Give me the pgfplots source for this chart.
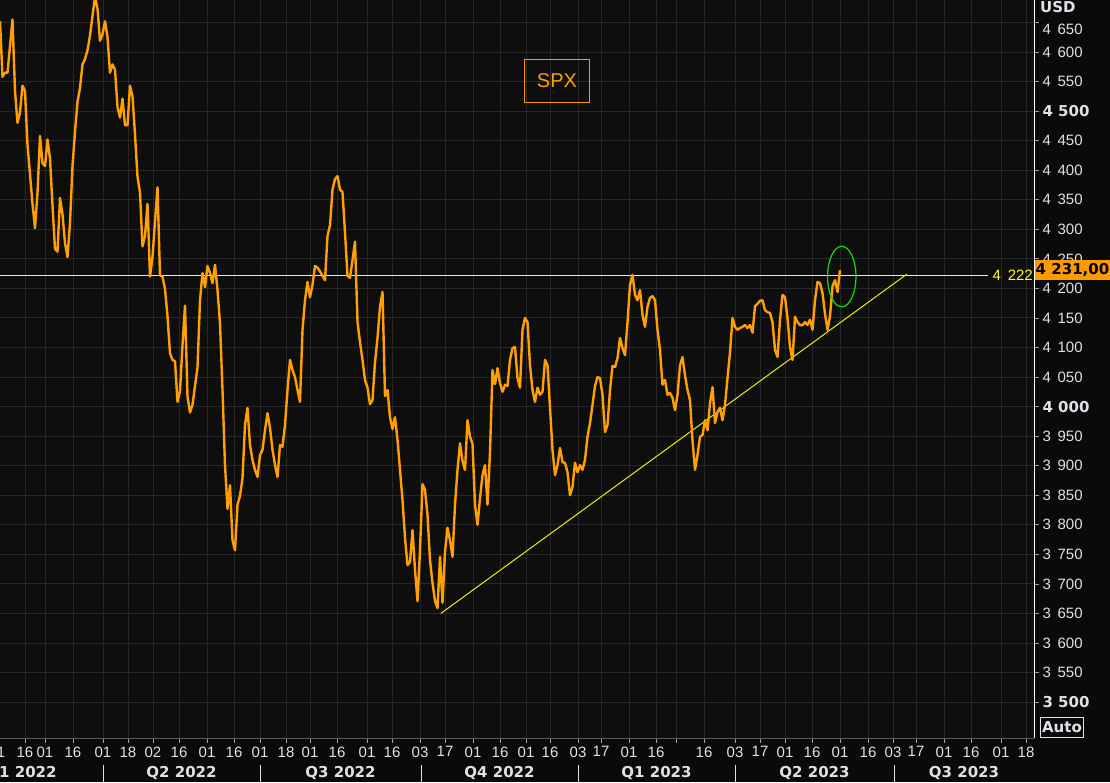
\documentclass[border=0pt]{standalone}
\usepackage{fontspec}
\setmainfont{Liberation Sans}
\newfontfamily\dv{DejaVu Sans}
\usepackage{pgfplots}
\pgfplotsset{compat=1.18}
\usepackage{pgfplotstable}

\definecolor{bgout}{RGB}{10,10,10}
\definecolor{bgplot}{RGB}{14,14,14}
\definecolor{gridc}{RGB}{40,40,40}
\definecolor{axgray}{RGB}{90,90,90}
\definecolor{labc}{RGB}{222,226,232}
\definecolor{spxline}{RGB}{255,160,0}
\definecolor{tagc}{RGB}{255,153,0}
\definecolor{lvl}{RGB}{255,255,40}
\definecolor{trend}{RGB}{235,235,20}
\definecolor{circ}{RGB}{20,220,20}

\newcommand\gap{\hspace{0.45em}}
\newcommand\B[1]{{\dv\bfseries #1}}
\tikzset{
  qlab/.style={text=labc, font=\dv\bfseries\fontsize{15}{17}\selectfont},
  qsep/.style={draw=labc, line width=1pt},
}

% SPX daily closes, one per trading day (x = trading day index)
\pgfplotstableread[row sep=\\]{
close\\
4652\\4558\\4565\\4565\\4610\\4655\\4534\\4480\\4498\\4543\\
4534\\4443\\4393\\4343\\4302\\4362\\4458\\4412\\4407\\4452\\
4420\\4340\\4267\\4262\\4353\\4325\\4277\\4253\\4311\\4407\\
4465\\4516\\4539\\4579\\4588\\4603\\4628\\4661\\4693\\4673\\
4619\\4630\\4652\\4625\\4565\\4579\\4570\\4507\\4489\\4521\\
4476\\4476\\4543\\4525\\4461\\4389\\4362\\4271\\4289\\4343\\
4220\\4253\\4313\\4371\\4222\\4220\\4199\\4153\\4090\\4079\\
4077\\4008\\4026\\4104\\4171\\4017\\3990\\4003\\4035\\4066\\
4180\\4226\\4202\\4238\\4226\\4209\\4240\\4197\\4141\\4028\\
3901\\3827\\3867\\3774\\3757\\3834\\3849\\3879\\3969\\3998\\
3935\\3910\\3893\\3881\\3918\\3927\\3960\\3989\\3964\\3927\\
3901\\3881\\3935\\3932\\3969\\4028\\4079\\4062\\4050\\4028\\
4008\\4130\\4180\\4211\\4185\\4206\\4238\\4235\\4229\\4221\\
4214\\4289\\4307\\4367\\4385\\4390\\4367\\4363\\4295\\4221\\
4218\\4248\\4279\\4143\\4109\\4079\\4045\\4032\\4004\\4011\\
4075\\4116\\4169\\4194\\4018\\4028\\3982\\3962\\3982\\3944\\
3893\\3842\\3778\\3732\\3737\\3791\\3724\\3671\\3757\\3869\\
3859\\3817\\3740\\3702\\3671\\3659\\3746\\3668\\3754\\3795\\
3774\\3746\\3834\\3893\\3938\\3908\\3893\\3977\\3949\\3937\\
3834\\3800\\3845\\3884\\3901\\3834\\3923\\4062\\4038\\4065\\
4040\\4025\\4037\\4035\\4079\\4099\\4101\\4048\\4032\\4130\\
4150\\4143\\4070\\4028\\4008\\4032\\4020\\4025\\4079\\4070\\
3998\\3927\\3884\\3901\\3930\\3906\\3905\\3889\\3850\\3864\\
3905\\3889\\3901\\3893\\3910\\3949\\3972\\4003\\4035\\4050\\
4048\\4020\\3957\\3969\\4028\\4069\\4067\\4082\\4116\\4099\\
4087\\4143\\4206\\4223\\4189\\4180\\4197\\4155\\4135\\4169\\
4184\\4187\\4180\\4130\\4096\\4037\\4045\\4020\\4023\\4015\\
3994\\4020\\4070\\4084\\4053\\4028\\4011\\3943\\3893\\3918\\
3949\\3952\\3977\\3960\\4006\\4033\\3972\\3991\\3998\\3977\\
4003\\4048\\4092\\4150\\4135\\4130\\4133\\4135\\4138\\4133\\
4138\\4125\\4170\\4174\\4179\\4180\\4163\\4160\\4158\\4143\\
4096\\4084\\4147\\4189\\4185\\4150\\4101\\4079\\4152\\4143\\
4138\\4138\\4143\\4138\\4147\\4130\\4180\\4211\\4209\\4192\\
4157\\4130\\4153\\4204\\4214\\4194\\4231\\
}\spx

\begin{document}
\begin{tikzpicture}[x=1pt,y=1pt]
\useasboundingbox (0,0) rectangle (1110,782);
\fill[bgout] (0,0) rectangle (1110,782);
\clip (0,0) rectangle (1110,782);
\begin{axis}[
  at={(0pt,44pt)}, anchor=south west,
  width=1034pt, height=738pt, scale only axis,
  xmin=0, xmax=413.6, ymin=3439.3, ymax=4688,
  axis background/.style={fill=bgplot},
  axis x line*=bottom, axis y line*=right,
  x axis line style={draw=axgray, line width=1pt},
  y axis line style={draw=white, line width=1pt},
  tick align=outside, major tick length=5pt,
  tick style={draw=labc!70!black, line width=0.8pt},
  grid=major, major grid style={draw=gridc, line width=1pt},
  clip mode=individual,
  xtick={10,18,29.2,41.2,51.2,61.2,71.6,82.8,93.6,104,114.4,124,134.8,146.8,156.8,
         168,178,189.2,200,210.4,220,231.2,240.4,251.6,262.4,270.4,281.6,294,304,314,
         324.8,336,347.2,357.2,366.4,377.6,388.4,400.4,410.4},
  xticklabels={16,01,16,01,18,02,16,01,16,01,18,01,16,01,16,03,17,01,16,01,
               16,03,17,01,16,{},16,03,17,01,16,01,16,03,17,01,16,01,18},
  ytick={3500,3550,...,4600},
  yticklabels={\B{3 500},3\gap550,3\gap600,3\gap650,3\gap700,3\gap750,3\gap800,
               3\gap850,3\gap900,3\gap950,\B{4 000},4\gap050,4\gap100,4\gap150,
               4\gap200,4\gap250,4\gap300,4\gap350,4\gap400,4\gap450,\B{4 500},
               4\gap550,4\gap600},
  extra y ticks={4650},
  extra y tick labels={4\gap650},
  extra y tick style={yticklabel style={yshift=-7pt}},
  xticklabel style={font=\fontsize{15}{17}\selectfont, text=labc},
  yticklabel style={font=\fontsize{15}{17}\selectfont, text=labc, anchor=west},
]
% level and trend lines
\addplot[lvl, line width=1pt] coordinates {(0,4222) (395.2,4222)};
\addplot[trend, line width=1pt] coordinates {(176.3,3650) (362.7,4224)};
% price series
\addplot[spxline, line width=2.4pt, line join=round] table[x expr=\coordindex, y=close] {\spx};

\draw[circ, line width=1.2pt] (axis cs:336.7,4220) ellipse [x radius=14.2pt, y radius=30.3pt];

\node[lvl, anchor=east, inner sep=0pt, font=\fontsize{15}{17}\selectfont]
  at (axis cs:413.6,4222) [xshift=-1pt] {4\gap222};
\node[fill=tagc, text=black, anchor=west, inner sep=1pt, minimum height=20pt,
      font=\dv\bfseries\fontsize{15}{17}\selectfont]
  at (axis cs:413.6,4231) [xshift=0.5pt] {4 231,00};

% partial first date label
\node[text=labc, anchor=north, font=\fontsize{15}{17}\selectfont]
  at (axis cs:-1.2,3439.3) [yshift=-5pt] {01};

% quarter separators
\draw[qsep] (axis cs:41.2,3439.3) ++(0pt,-27pt) -- ++(0pt,-20pt);
\draw[qsep] (axis cs:104,3439.3) ++(0pt,-27pt) -- ++(0pt,-20pt);
\draw[qsep] (axis cs:168.4,3439.3) ++(0pt,-27pt) -- ++(0pt,-20pt);
\draw[qsep] (axis cs:231.2,3439.3) ++(0pt,-27pt) -- ++(0pt,-20pt);
\draw[qsep] (axis cs:294,3439.3) ++(0pt,-27pt) -- ++(0pt,-20pt);
\draw[qsep] (axis cs:357.6,3439.3) ++(0pt,-27pt) -- ++(0pt,-20pt);
% quarter labels
\node[qlab] at (axis cs:8.6,3439.3) [yshift=-35pt] {Q1 2022};
\node[qlab] at (axis cs:72.6,3439.3) [yshift=-35pt] {Q2 2022};
\node[qlab] at (axis cs:136.2,3439.3) [yshift=-35pt] {Q3 2022};
\node[qlab] at (axis cs:199.8,3439.3) [yshift=-35pt] {Q4 2022};
\node[qlab] at (axis cs:262.6,3439.3) [yshift=-35pt] {Q1 2023};
\node[qlab] at (axis cs:325.8,3439.3) [yshift=-35pt] {Q2 2023};
\node[qlab] at (axis cs:385.6,3439.3) [yshift=-35pt] {Q3 2023};
\end{axis}

% legend box
\node[draw=tagc, line width=1.2pt, text=spxline, minimum width=65pt, minimum height=43pt,
      font=\fontsize{20}{22}\selectfont] at (557,701) {SPX};
% currency and scale labels
\node[text=labc, anchor=west, inner sep=0pt, font=\dv\bfseries\fontsize{15}{17}\selectfont]
  at (1040,775) {USD};
\node[draw=labc, line width=1pt, text=labc, inner sep=1.5pt, minimum width=42pt, minimum height=20pt,
      font=\dv\bfseries\fontsize{15}{17}\selectfont] at (1062,55) {Auto};
\end{tikzpicture}
\end{document}
